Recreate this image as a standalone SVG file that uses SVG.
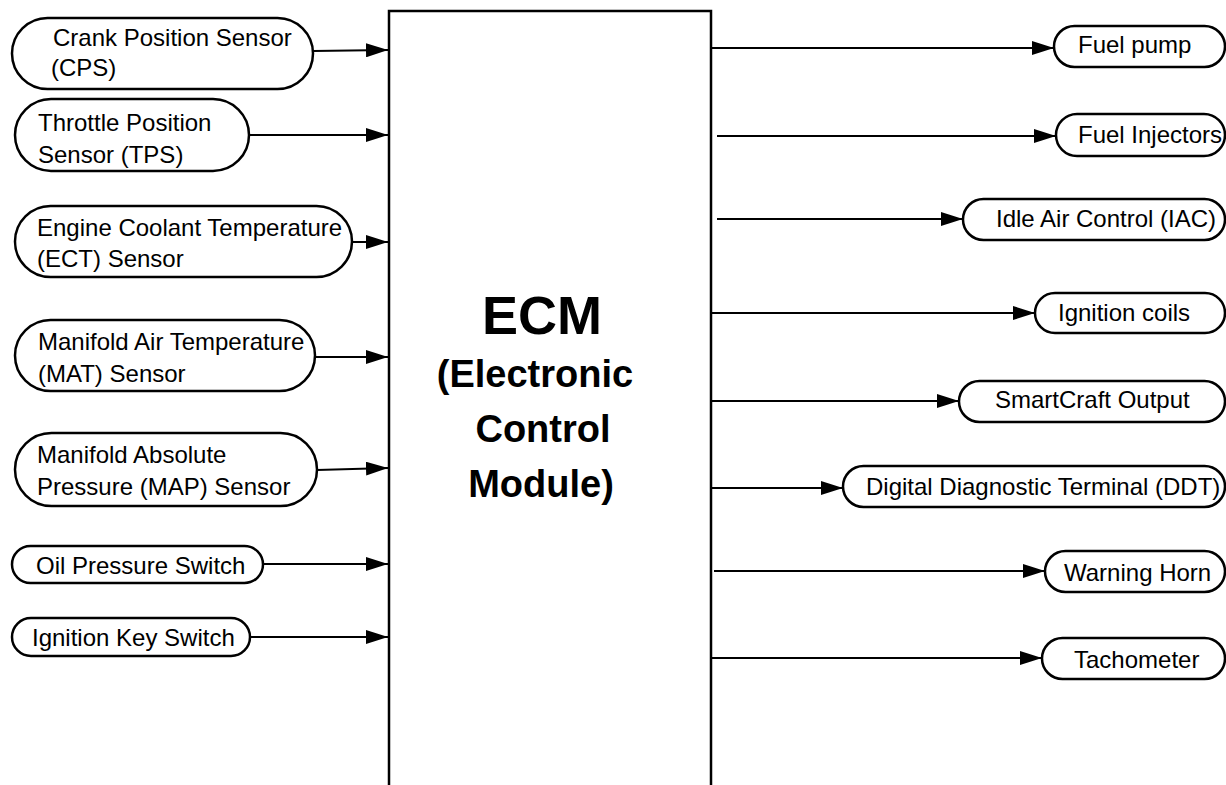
<svg xmlns="http://www.w3.org/2000/svg" width="1226" height="785" viewBox="0 0 1226 785">
<style>
.node{fill:#fff;stroke:#000;stroke-width:2.5}
.t{font-family:"Liberation Sans",Arial,sans-serif;font-size:24px;fill:#000}
.b{font-family:"Liberation Sans",Arial,sans-serif;font-weight:bold;fill:#000;text-anchor:middle}
.c{fill:none;stroke:#000;stroke-width:2.2;marker-end:url(#ah)}
</style>
<defs>
<marker id="ah" markerUnits="userSpaceOnUse" markerWidth="22" markerHeight="14" refX="22" refY="7" orient="auto">
<path d="M0,0 L22,7 L0,14 z" fill="#000"/>
</marker>
</defs>
<rect width="1226" height="785" fill="#fff"/>
<g id="ecm">
<rect x="389" y="11" width="322" height="800" class="node"/>
<text class="b" x="542" y="334" font-size="54">ECM</text>
<text class="b" x="535" y="387" font-size="38">(Electronic</text>
<text class="b" x="543" y="442" font-size="38">Control</text>
<text class="b" x="541" y="497" font-size="38">Module)</text>
</g>
<g id="cps"><rect class="node" x="12" y="18" width="301" height="71" rx="35.5"/>
<text class="t" x="53" y="46">Crank Position Sensor</text><text class="t" x="51" y="76">(CPS)</text></g>
<g id="tps"><rect class="node" x="15" y="99" width="234" height="72" rx="36"/>
<text class="t" x="38" y="131">Throttle Position</text><text class="t" x="38" y="163" font-size="26">Sensor (TPS)</text></g>
<g id="ect"><rect class="node" x="15" y="206" width="337" height="71" rx="35.5"/>
<text class="t" x="37" y="236" font-size="23.4">Engine Coolant Temperature</text><text class="t" x="37" y="267" font-size="23.4">(ECT) Sensor</text></g>
<g id="mat"><rect class="node" x="15" y="320" width="300" height="71" rx="35.5"/>
<text class="t" x="38" y="350" font-size="23.2">Manifold Air Temperature</text><text class="t" x="38" y="382" font-size="23.2">(MAT) Sensor</text></g>
<g id="map"><rect class="node" x="15" y="433" width="302" height="73" rx="36.5"/>
<text class="t" x="37" y="463">Manifold Absolute</text><text class="t" x="37" y="495">Pressure (MAP) Sensor</text></g>
<g id="oil"><rect class="node" x="12" y="546" width="251" height="37" rx="18.5"/>
<text class="t" x="36" y="574">Oil Pressure Switch</text></g>
<g id="key"><rect class="node" x="12" y="618" width="238" height="38" rx="19"/>
<text class="t" x="32" y="646">Ignition Key Switch</text></g>
<g id="fuelpump"><rect class="node" x="1054" y="26" width="171" height="41" rx="20.5"/>
<text class="t" x="1078" y="53">Fuel pump</text></g>
<g id="injectors"><rect class="node" x="1056" y="114" width="169" height="42" rx="21"/>
<text class="t" x="1078" y="143">Fuel Injectors</text></g>
<g id="iac"><rect class="node" x="963" y="199" width="262" height="41" rx="20.5"/>
<text class="t" x="996" y="227">Idle Air Control (IAC)</text></g>
<g id="coils"><rect class="node" x="1035" y="293" width="190" height="40" rx="20"/>
<text class="t" x="1058" y="321">Ignition coils</text></g>
<g id="smartcraft"><rect class="node" x="959" y="381" width="266" height="41" rx="20.5"/>
<text class="t" x="995" y="408">SmartCraft Output</text></g>
<g id="ddt"><rect class="node" x="843" y="466" width="382" height="41" rx="20.5"/>
<text class="t" x="866" y="495" font-size="23.5">Digital Diagnostic Terminal (DDT)</text></g>
<g id="horn"><rect class="node" x="1045" y="551" width="180" height="41" rx="20.5"/>
<text class="t" x="1064" y="581">Warning Horn</text></g>
<g id="tach"><rect class="node" x="1042" y="638" width="183" height="41" rx="20.5"/>
<text class="t" x="1074" y="668">Tachometer</text></g>
<g id="connectors">
<path class="c" d="M313,51 L388,50"/>
<path class="c" d="M249,135 L388,135"/>
<path class="c" d="M352,242 L388,242"/>
<path class="c" d="M315,357 L388,357"/>
<path class="c" d="M317,470 L388,468"/>
<path class="c" d="M263,564 L388,564"/>
<path class="c" d="M250,637 L388,637"/>
<path class="c" d="M711,48 L1054,48"/>
<path class="c" d="M717,136 L1056,136"/>
<path class="c" d="M717,219 L963,219"/>
<path class="c" d="M711,313 L1035,313"/>
<path class="c" d="M711,401 L959,401"/>
<path class="c" d="M711,488 L843,488"/>
<path class="c" d="M714,571 L1045,571"/>
<path class="c" d="M711,658 L1042,658"/>
</g>
</svg>
